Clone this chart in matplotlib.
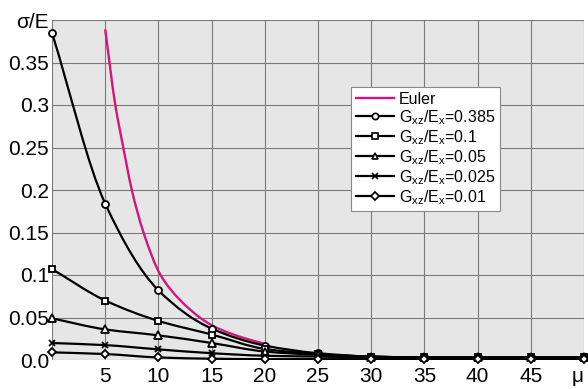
import numpy as np
import matplotlib
matplotlib.use('Agg')
import matplotlib.pyplot as plt
from matplotlib.path import Path
from matplotlib.patches import PathPatch
from matplotlib.lines import Line2D

plt.rcParams['font.family'] = ['Liberation Sans', 'DejaVu Sans']
plt.rcParams['mathtext.fontset'] = 'custom'
plt.rcParams['mathtext.rm'] = 'Liberation Sans'
plt.rcParams['mathtext.it'] = 'Liberation Sans'

# slenderness values where markers sit
mu = [0, 5, 10, 15, 20, 25, 30, 35, 40, 45, 50]

# sigma/E for each G_xz/E_x ratio
s_0385 = [0.385, 0.184, 0.082, 0.037, 0.017, 0.008, 0.004, 0.003, 0.003, 0.003, 0.003]
s_01 = [0.107, 0.070, 0.046, 0.030, 0.013, 0.007, 0.004, 0.003, 0.003, 0.003, 0.003]
s_005 = [0.049, 0.036, 0.029, 0.020, 0.010, 0.006, 0.004, 0.003, 0.003, 0.003, 0.003]
s_0025 = [0.020, 0.0175, 0.0125, 0.008, 0.005, 0.004, 0.003, 0.002, 0.002, 0.002, 0.002]
s_001 = [0.009, 0.007, 0.003, 0.0015, 0.001, 0.001, 0.001, 0.001, 0.001, 0.001, 0.001]

# Euler curve, read at a few points
mu_euler = [5, 5.95, 6.7, 7.5, 8.6, 10.2, 12, 14, 15, 16, 18, 20]
s_euler = [0.389, 0.30, 0.25, 0.20, 0.15, 0.10, 0.071, 0.049, 0.041, 0.035, 0.026, 0.019]

series = [
    (s_0385, 'o', 5.0, r'G$_{xz}$/E$_x$=0.385'),
    (s_01, 's', 5.0, r'G$_{xz}$/E$_x$=0.1'),
    (s_005, '^', 5.5, r'G$_{xz}$/E$_x$=0.05'),
    (s_0025, 'x', 4.5, r'G$_{xz}$/E$_x$=0.025'),
    (s_001, 'D', 4.5, r'G$_{xz}$/E$_x$=0.01'),
]

yticks = [0.0, 0.05, 0.1, 0.15, 0.2, 0.25, 0.3, 0.35, 0.4]
ylabels = ['0.0', '0.05', '0.1', '0.15', '0.2', '0.25', '0.3', '0.35', 'σ/E']
xticks = [0, 5, 10, 15, 20, 25, 30, 35, 40, 45, 50]
xlabels = ['', '5', '10', '15', '20', '25', '30', '35', '40', '45', 'μ']


def smooth_path(x, y):
    # cubic Bezier through the points, monotone tangents so curves don't overshoot
    x = np.asarray(x, float)
    y = np.asarray(y, float)
    h = np.diff(x)
    d = np.diff(y) / h
    m = np.zeros_like(y)
    m[0], m[-1] = d[0], d[-1]
    for i in range(1, len(y) - 1):
        if d[i - 1] * d[i] <= 0:
            m[i] = 0
        else:
            w1 = 2 * h[i] + h[i - 1]
            w2 = h[i] + 2 * h[i - 1]
            m[i] = (w1 + w2) / (w1 / d[i - 1] + w2 / d[i])
    verts = [(x[0], y[0])]
    codes = [Path.MOVETO]
    for i in range(len(x) - 1):
        verts += [(x[i] + h[i] / 3, y[i] + m[i] * h[i] / 3),
                  (x[i + 1] - h[i] / 3, y[i + 1] - m[i + 1] * h[i] / 3),
                  (x[i + 1], y[i + 1])]
        codes += [Path.CURVE4] * 3
    return Path(verts, codes)


fig = plt.figure(figsize=(5.88, 3.89), dpi=100)
ax = fig.add_axes([52 / 588, 29 / 389, 532 / 588, 340 / 389])
ax.set_facecolor('#e6e6e6')

euler_color = '#d4157c'
ax.add_patch(PathPatch(smooth_path(mu_euler, s_euler), fill=False,
                       edgecolor=euler_color, lw=1.7, zorder=2))

handles = [Line2D([], [], color=euler_color, lw=1.7, label='Euler')]
for vals, mk, ms, lab in series:
    ax.add_patch(PathPatch(smooth_path(mu, vals), fill=False,
                           edgecolor='black', lw=1.6, zorder=3))
    ax.plot(mu, vals, linestyle='none', marker=mk, ms=ms, mfc='white',
            mec='black', mew=1.3, zorder=4, clip_on=False)
    handles.append(Line2D([], [], color='black', lw=1.6, marker=mk, ms=ms - 0.5,
                          mfc='white', mec='black', mew=1.2, label=lab))

ax.set_xlim(0, 50)
ax.set_ylim(0, 0.4)
ax.set_xticks(xticks)
ax.set_xticklabels(xlabels)
ax.set_yticks(yticks)
ax.set_yticklabels(ylabels)
ax.tick_params(length=0, labelsize=15, pad=2)
ax.tick_params(axis='x', pad=5)
# the mu label sits at the right edge; keep it inside the figure
ax.get_xticklabels()[-1].set_horizontalalignment('right')
ax.grid(True, color='#7a7a7a', lw=0.8)
ax.set_axisbelow(True)
for sp in ax.spines.values():
    sp.set_visible(False)

leg = ax.legend(handles=handles, loc='upper left', bbox_to_anchor=(0.562, 0.803),
                borderaxespad=0, fontsize=11.5, handlelength=2.4, handletextpad=0.3,
                labelspacing=0.08, borderpad=0.3, fancybox=False, framealpha=1,
                edgecolor='#888888')
leg.get_frame().set_linewidth(0.8)

fig.savefig('out.png', dpi=100)
